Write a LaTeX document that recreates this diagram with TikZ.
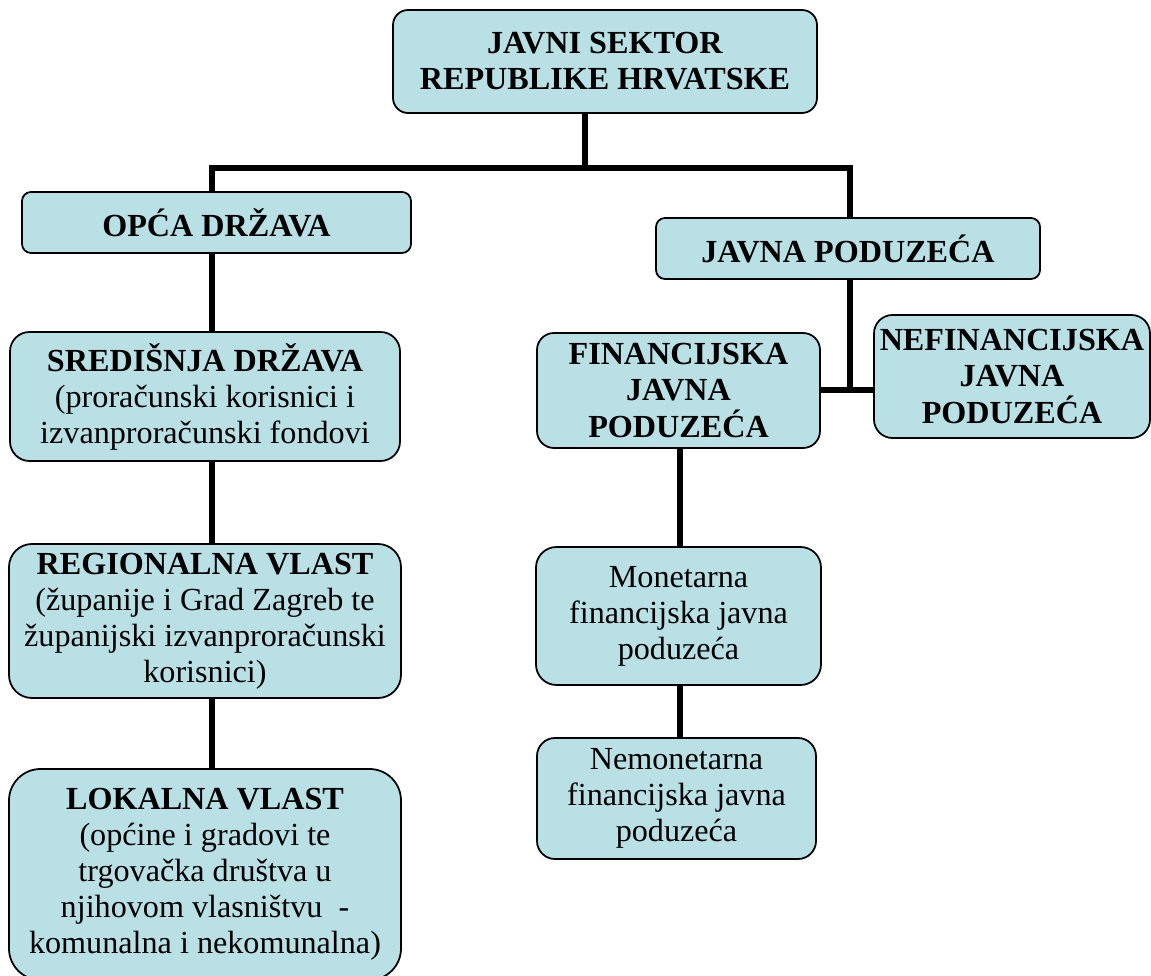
\documentclass[tikz,border=0pt]{standalone}
\usepackage{fontspec}
\setmainfont{Liberation Serif}
\usepackage{tikz}
\usetikzlibrary{calc}
\definecolor{boxfill}{RGB}{185,224,228}

\begin{document}
\begin{tikzpicture}[x = 0.2mm, y = -0.2mm,
  box/.style = {draw, rounded corners = #1, fill = boxfill, line width = 1pt,
                align = center, inner sep = 0pt, font = \fontsize{18.3}{20.5}\selectfont},
  box/.default = 3mm,
  link/.style = {line width = 2.9pt}]
\useasboundingbox (0,0) rectangle (1151,976);

%Top box
\node[box = 3mm, minimum width = 84.8mm, minimum height = 20.6mm] (sektor) at (605,61.5)
  {\textbf{JAVNI SEKTOR}\\\textbf{REPUBLIKE HRVATSKE}};

%Second level
\node[box = 1.8mm, minimum width = 77.8mm, minimum height = 12.2mm] (opca) at (216.5,222.5)
  {\textbf{OPĆA DRŽAVA}};
\node[box = 1.8mm, minimum width = 76.8mm, minimum height = 12.2mm] (javna) at (848,248.5)
  {\textbf{JAVNA PODUZEĆA}};

%Left column
\node[box = 3.9mm, minimum width = 78mm, minimum height = 25.8mm] (sred) at (205,396.5)
  {\textbf{SREDIŠNJA DRŽAVA}\\(proračunski korisnici i\\izvanproračunski fondovi};
\node[box = 4.6mm, minimum width = 78.4mm, minimum height = 30.8mm] (reg) at (205,621)
  {\textbf{REGIONALNA VLAST}\\(županije i Grad Zagreb te\\županijski izvanproračunski\\korisnici)};
\node[box = 6.3mm, minimum width = 78.4mm, minimum height = 42.2mm] (lok) at (205,874.5)
  {\textbf{LOKALNA VLAST}\\(općine i gradovi te\\trgovačka društva u\\njihovom vlasništvu~~-\\komunalna i nekomunalna)};

%Right column
\node[box = 3.4mm, minimum width = 56.6mm, minimum height = 23mm] (fin) at (678.5,390.5)
  {\textbf{FINANCIJSKA}\\\textbf{JAVNA}\\\textbf{PODUZEĆA}};
\node[box = 3.7mm, minimum width = 55.2mm, minimum height = 24.6mm] (nefin) at (1012,376.5)
  {\textbf{NEFINANCIJSKA}\\\textbf{JAVNA}\\\textbf{PODUZEĆA}};
\node[box = 4.1mm, minimum width = 57mm, minimum height = 27.6mm] (mon) at (678.5,616)
  {Monetarna\\financijska javna\\poduzeća};
\node[box = 3.6mm, minimum width = 55.8mm, minimum height = 24.2mm] (nemon) at (676.5,798.5)
  {Nemonetarna\\financijska javna\\poduzeća};

%Line positions
\coordinate (split) at (585,168);
\coordinate (lcol) at (212,0);
\coordinate (rcol) at (850,0);
\coordinate (fcol) at (680,0);
\coordinate (join) at (850,390);

%Connectors
\draw[link] (sektor.south -| split) -- (split);
\draw[link] (opca.north -| lcol) |- (split) -| (javna.north -| rcol);
\draw[link] (opca.south -| lcol) -- (sred.north -| lcol);
\draw[link] (sred.south -| lcol) -- (reg.north -| lcol);
\draw[link] (reg.south -| lcol) -- (lok.north -| lcol);
\draw[link] (javna.south -| rcol) -- (join);
\draw[link] (fin.east |- join) -- (nefin.west |- join);
\draw[link] (fin.south -| fcol) -- (mon.north -| fcol);
\draw[link] (mon.south -| fcol) -- (nemon.north -| fcol);

\end{tikzpicture}
\end{document}
